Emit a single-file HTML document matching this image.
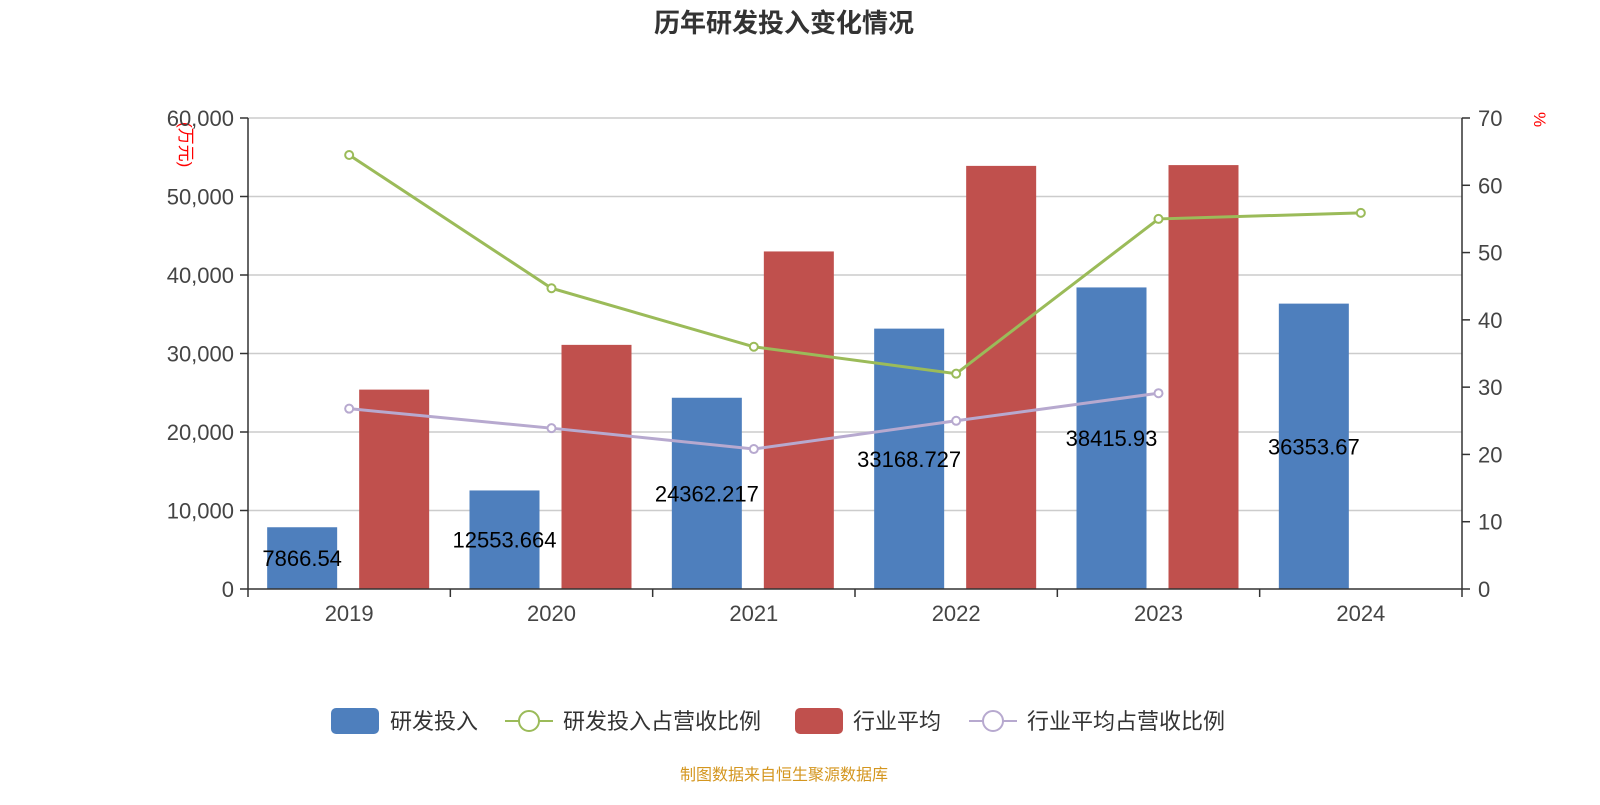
<!DOCTYPE html>
<html><head><meta charset="utf-8">
<style>
body{margin:0;background:#fff;}
svg text{font-family:"Liberation Sans","Noto Sans CJK SC",sans-serif;}
</style></head>
<body>
<svg id="chart" width="1600" height="800" xmlns="http://www.w3.org/2000/svg">
<text x="784" y="32" text-anchor="middle" font-size="26" font-weight="bold" fill="#333">历年研发投入变化情况</text>
<text transform="translate(180,122) rotate(90)" font-size="17" fill="#f00">(万元)</text>
<text transform="translate(1534,112) rotate(90)" font-size="17" fill="#f00">%</text>
<g id="grid"></g><g id="bars"></g><g id="lines"></g><g id="axes"></g><g id="labels"></g>
<g>
 <g><rect x="331" y="708" width="48" height="26" rx="5" fill="#4e7fbd"/><text x="390" y="729" font-size="22" fill="#333">研发投入</text></g>
 <g><line x1="505" y1="721" x2="553" y2="721" stroke="#9bbb59" stroke-width="2"/><circle cx="529" cy="721" r="10" fill="#fff" stroke="#9bbb59" stroke-width="2"/><text x="563" y="729" font-size="22" fill="#333">研发投入占营收比例</text></g>
 <g><rect x="795" y="708" width="48" height="26" rx="5" fill="#c0504d"/><text x="853" y="729" font-size="22" fill="#333">行业平均</text></g>
 <g><line x1="969" y1="721" x2="1017" y2="721" stroke="#b7a9cf" stroke-width="2"/><circle cx="993" cy="721" r="10" fill="#fff" stroke="#b7a9cf" stroke-width="2"/><text x="1027" y="729" font-size="22" fill="#333">行业平均占营收比例</text></g>
</g>
<text x="784" y="780" text-anchor="middle" font-size="16" fill="#d4961f">制图数据来自恒生聚源数据库</text>
</svg>
<script>
const categories=["2019","2020","2021","2022","2023","2024"];
const rdValues=[7866.54,12553.664,24362.217,33168.727,38415.93,36353.67];
const rdLabels=["7866.54","12553.664","24362.217","33168.727","38415.93","36353.67"];
const industryValues=[25400,31100,43000,53900,54000,null];
const rdRatio=[64.5,44.7,36.0,32.0,55.0,55.9];
const industryRatio=[26.8,23.9,20.8,25.0,29.1,null];
const leftTicks=[0,10000,20000,30000,40000,50000,60000];
const rightTicks=[0,10,20,30,40,50,60,70];

const NS="http://www.w3.org/2000/svg";
const X0=248,X1=1462,Y0=589,Y1=118;
const bw=(X1-X0)/categories.length;
const yL=v=>Y0-(v/60000)*(Y0-Y1);
const yR=v=>Y0-(v/70)*(Y0-Y1);
const cx=i=>X0+bw*(i+0.5);
function mk(tag,attrs,parent,txt){const e=document.createElementNS(NS,tag);for(const k in attrs)e.setAttribute(k,attrs[k]);if(txt!==undefined)e.textContent=txt;document.getElementById(parent).appendChild(e);return e;}
leftTicks.forEach(t=>{
 if(t>0){const g=mk('line',{x1:X0,x2:X1,y1:yL(t),y2:yL(t),stroke:'#ccc','stroke-width':1.5},'grid');
 
 }
 const tk=mk('line',{x1:X0-8,x2:X0,y1:yL(t),y2:yL(t),stroke:'#333','stroke-width':1.5},'axes');
 
 
 const l=mk('text',{x:X0-14,y:yL(t)+8,'text-anchor':'end','font-size':22,fill:'#444'},'axes',t.toLocaleString('en-US'));
 
 
});
rightTicks.forEach(t=>{
 const tk=mk('line',{x1:X1,x2:X1+8,y1:yR(t),y2:yR(t),stroke:'#333','stroke-width':1.5},'axes');
 
 
 const l=mk('text',{x:X1+16,y:yR(t)+8,'font-size':22,fill:'#444'},'axes',t);
 
 
});
let a=mk('line',{x1:X0,x2:X0,y1:Y1,y2:Y0,stroke:'#333','stroke-width':1.5},'axes');


a=mk('line',{x1:X1,x2:X1,y1:Y1,y2:Y0,stroke:'#333','stroke-width':1.5},'axes');


a=mk('line',{x1:X0,x2:X1,y1:Y0,y2:Y0,stroke:'#333','stroke-width':1.5},'axes');


for(let i=0;i<=categories.length;i++){const t=mk('line',{x1:X0+bw*i,x2:X0+bw*i,y1:Y0,y2:Y0+8,stroke:'#333','stroke-width':1.5},'axes');
 
 }
categories.forEach((c,i)=>{
 const l=mk('text',{x:cx(i),y:Y0+32,'text-anchor':'middle','font-size':22,fill:'#444'},'axes',c);
 
 
 const b=mk('rect',{x:cx(i)-82,y:yL(rdValues[i]),width:70,height:Y0-yL(rdValues[i]),fill:'#4e7fbd'},'bars');
 
 
 if(industryValues[i]!=null){const r=mk('rect',{x:cx(i)+10,y:yL(industryValues[i]),width:70,height:Y0-yL(industryValues[i]),fill:'#c0504d'},'bars');
 
 }
 const v=mk('text',{x:cx(i)-47,y:(yL(rdValues[i])+Y0)/2+8,'text-anchor':'middle','font-size':22,fill:'#000'},'labels',rdLabels[i]);
 
 
});
function line(vals,color,name){
 const pts=[];vals.forEach((v,i)=>{if(v!=null)pts.push([cx(i),yR(v)]);});
 const p=mk('polyline',{points:pts.map(p=>p.join(',')).join(' '),fill:'none',stroke:color,'stroke-width':3},'lines');
 
 
 pts.forEach(q=>{const c=mk('circle',{cx:q[0],cy:q[1],r:4,fill:'#fff',stroke:color,'stroke-width':2},'lines');
 
 });
}
line(industryRatio,'#b7a9cf','industry-ratio');
line(rdRatio,'#9bbb59','rd-ratio');
</script>
</body></html>
